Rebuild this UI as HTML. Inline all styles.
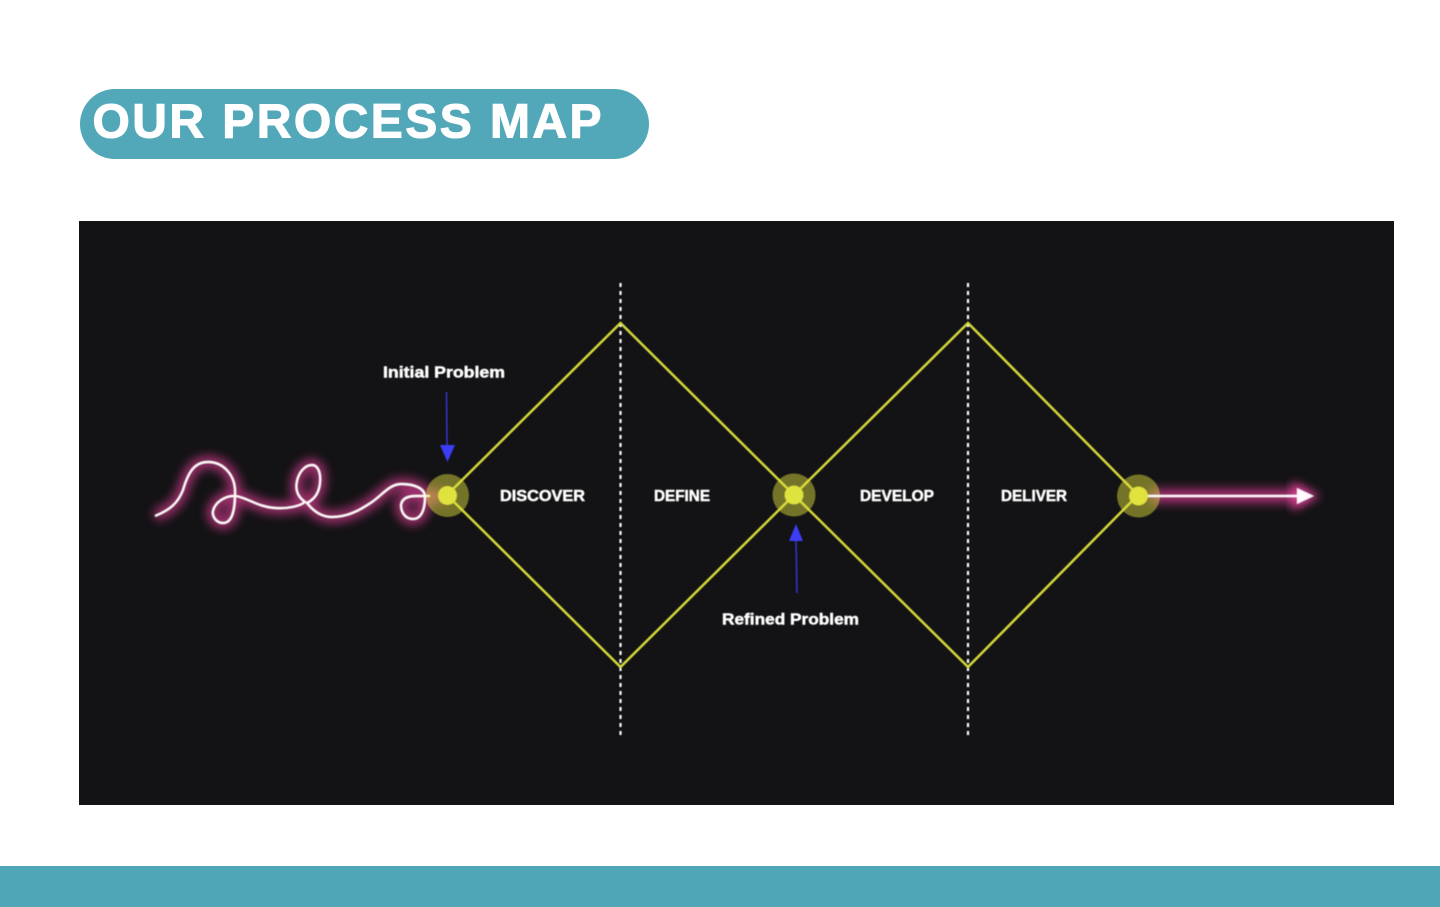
<!DOCTYPE html>
<html>
<head>
<meta charset="utf-8">
<style>
html,body{margin:0;padding:0;background:#fff;width:1440px;height:907px;overflow:hidden}
svg{display:block}
text{font-family:"Liberation Sans",sans-serif;font-weight:bold}
</style>
</head>
<body>
<svg width="1440" height="907" viewBox="0 0 1440 907" xmlns="http://www.w3.org/2000/svg">
<defs>
<filter id="glow" x="-20%" y="-80%" width="140%" height="260%"><feGaussianBlur stdDeviation="5"/></filter>
<filter id="glow2" x="-10%" y="-800%" width="120%" height="1700%"><feGaussianBlur stdDeviation="5"/></filter>
<filter id="soft" x="-5%" y="-5%" width="110%" height="110%"><feGaussianBlur stdDeviation="0.5"/></filter>
</defs>
<rect width="1440" height="907" fill="#fff"/>
<rect x="80" y="89" width="569" height="70" rx="35" fill="#52a7b8"/>
<text x="92.5" y="137.5" font-size="48" fill="#fff" stroke="#fff" stroke-width="1.1" textLength="509" lengthAdjust="spacing">OUR PROCESS MAP</text>
<rect x="79" y="221" width="1315" height="584" fill="#131315"/>
<rect x="0" y="866" width="1440" height="41" fill="#4fa6b7"/>

<g filter="url(#soft)">
<path d="M155 516 C170 510 178 503 183 490 C188 473 194 462 208 462 C224 462 236 476 235 494 C235 510 232 523 223 523 C216 523 212 516 213 511 C215 502 226 495 236 496 C248 498 258 507 275 508 C288 509 300 506 305 502 C298 497 295 490 297 481 C299 472 305 465 312 465 C318 465 321 473 320 483 C319 494 313 500 307 503 C314 512 322 517 332 517 C348 517 360 510 372 502 C382 495 390 484 401 484 C414 484 425 488 425 497 C425 510 421 519 413 519 C405 519 401 512 401 505 C402 498 408 496 416 496 L447 496" fill="none" stroke="#d83a92" stroke-opacity="0.72" stroke-width="12" filter="url(#glow)"/>
<path d="M155 516 C170 510 178 503 183 490 C188 473 194 462 208 462 C224 462 236 476 235 494 C235 510 232 523 223 523 C216 523 212 516 213 511 C215 502 226 495 236 496 C248 498 258 507 275 508 C288 509 300 506 305 502 C298 497 295 490 297 481 C299 472 305 465 312 465 C318 465 321 473 320 483 C319 494 313 500 307 503 C314 512 322 517 332 517 C348 517 360 510 372 502 C382 495 390 484 401 484 C414 484 425 488 425 497 C425 510 421 519 413 519 C405 519 401 512 401 505 C402 498 408 496 416 496 L430 496" fill="none" stroke="#fff8fc" stroke-width="2.4"/>

<rect x="1150" y="489" width="152" height="14" fill="#d83a92" fill-opacity="0.75" filter="url(#glow2)"/>
<polygon points="1292,482 1320,496 1292,510" fill="#e0409a" filter="url(#glow)"/>

<g stroke="#fff" stroke-width="2.2" stroke-dasharray="4 4">
<line x1="620.5" y1="283" x2="620.5" y2="738"/>
<line x1="968" y1="283" x2="968" y2="738"/>
</g>

<g fill="none" stroke="#d6d93a" stroke-width="2.5">
<polygon points="447,495 620.5,323 794,495 620.5,667"/>
<polygon points="794,495 968,323 1138,495 968,667"/>
</g>

<circle cx="447.5" cy="495.5" r="21.5" fill="#dfe03e" fill-opacity="0.48"/>
<circle cx="794" cy="495" r="21.5" fill="#dfe03e" fill-opacity="0.48"/>
<circle cx="1138.5" cy="496" r="21.5" fill="#dfe03e" fill-opacity="0.48"/>

<line x1="1146" y1="496" x2="1300" y2="496" stroke="#fff8fc" stroke-width="2.6"/>
<polygon points="1297,488 1314,496 1297,504" fill="#fff8fc"/>

<circle cx="447.5" cy="495.5" r="9.5" fill="#e0e23e"/>
<circle cx="794" cy="495" r="9.5" fill="#e0e23e"/>
<circle cx="1138.5" cy="496" r="9.5" fill="#e0e23e"/>

<line x1="446.5" y1="392" x2="447" y2="446" stroke="#3434c8" stroke-width="1.6"/>
<polygon points="440,445 455,445 447.5,462" fill="#3c3cf5"/>
<line x1="797" y1="593" x2="796" y2="540" stroke="#3434c8" stroke-width="1.6"/>
<polygon points="789,541 803,541 796,524" fill="#3c3cf5"/>

<g fill="#fff" stroke="#fff" stroke-width="0.5">
<text x="383" y="377.5" font-size="16" textLength="122" lengthAdjust="spacingAndGlyphs">Initial Problem</text>
<text x="722" y="624.5" font-size="16" textLength="137" lengthAdjust="spacingAndGlyphs">Refined Problem</text>
<text x="500" y="501" font-size="16" textLength="85" lengthAdjust="spacingAndGlyphs">DISCOVER</text>
<text x="654" y="501" font-size="16" textLength="56" lengthAdjust="spacingAndGlyphs">DEFINE</text>
<text x="860" y="501" font-size="16" textLength="74" lengthAdjust="spacingAndGlyphs">DEVELOP</text>
<text x="1001" y="501" font-size="16" textLength="66" lengthAdjust="spacingAndGlyphs">DELIVER</text>
</g>
</g>
</svg>
</body>
</html>
